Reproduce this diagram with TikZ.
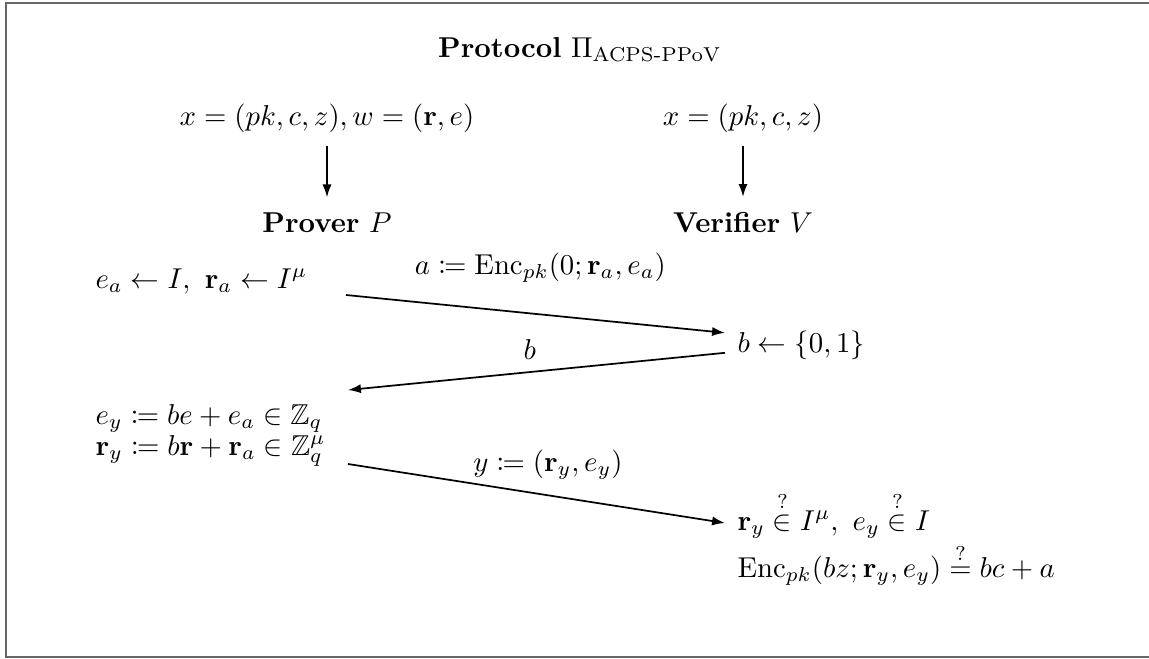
\documentclass[tikz,border=0pt]{standalone}
\usepackage{amsmath,amssymb,mathtools}
\usetikzlibrary{arrows.meta}
\begin{document}
\begin{tikzpicture}[x=0.348pt,y=-0.348pt,
  lbl/.style={inner sep=0pt, font=\fontsize{10}{12}\selectfont},
  arr/.style={-{Latex[length=4.5pt,width=3.2pt]}, line width=0.6pt},
  framestyle/.style={draw=black!60, line width=0.8pt}]
\useasboundingbox (0,0) rectangle (1149,659);
\draw[framestyle] (1149,3) -- (6,3) -- (6,657) -- (1149,657);

\node[lbl, anchor=base] (title) at (580,57) {\textbf{Protocol} $\Pi_{\mathrm{ACPS\text{-}PPoV}}$};

\node[lbl, anchor=base] (pin) at (327,125) {$x = (pk, c, z), w = (\mathbf{r}, e)$};
\node[lbl, anchor=base] (vin) at (743,125) {$x = (pk, c, z)$};
\node[lbl, anchor=base] (P) at (327,232) {\textbf{Prover} $P$};
\node[lbl, anchor=base] (V) at (743,232) {\textbf{Verifier} $V$};
\draw[arr, shorten <=4.5pt, shorten >=5pt] (pin.south) -- (P.north);
\draw[arr, shorten <=4.5pt, shorten >=5pt] (vin.south) -- (V.north);

\node[lbl, anchor=base west] (ea) at (95,288) {$e_a \leftarrow I,\ \mathbf{r}_a \leftarrow I^{\mu}$};
\node[lbl, anchor=base west] (b) at (737,352) {$b \leftarrow \{0,1\}$};
\node[lbl, anchor=base west] (ey) at (95,424) {$e_y \coloneqq be + e_a \in \mathbb{Z}_q$};
\node[lbl, anchor=base west] (ry) at (95,455) {$\mathbf{r}_y \coloneqq b\mathbf{r} + \mathbf{r}_a \in \mathbb{Z}_q^{\mu}$};
\node[lbl, anchor=base west] (chk1) at (737,530) {$\mathbf{r}_y \stackrel{?}{\in} I^{\mu},\ e_y \stackrel{?}{\in} I$};
\node[lbl, anchor=base west] (chk2) at (737,577) {$\mathrm{Enc}_{pk}(bz; \mathbf{r}_y, e_y) \stackrel{?}{=} bc + a$};

\draw[arr] ([xshift=251*0.348pt, yshift=-7*0.348pt]ea.base west)
  -- node[lbl, midway, xshift=1.7pt, yshift=16pt] (la) {$a \coloneqq \mathrm{Enc}_{pk}(0; \mathbf{r}_a, e_a)$}
  ([xshift=-12*0.348pt, yshift=12*0.348pt]b.west);
\draw[arr] ([xshift=-12*0.348pt, yshift=-8*0.348pt]b.west)
  -- node[lbl, midway, xshift=-2.3pt, yshift=7.5pt] (lb) {$b$}
  ([xshift=253*0.348pt, yshift=34*0.348pt]ey.base west);
\draw[arr] ([xshift=253*0.348pt, yshift=-9*0.348pt]ry.base west)
  -- node[lbl, midway, xshift=4pt, yshift=10pt] (ly) {$y \coloneqq (\mathbf{r}_y, e_y)$}
  ([xshift=-12*0.348pt, yshift=7*0.348pt]chk1.base west);
\end{tikzpicture}
\end{document}
